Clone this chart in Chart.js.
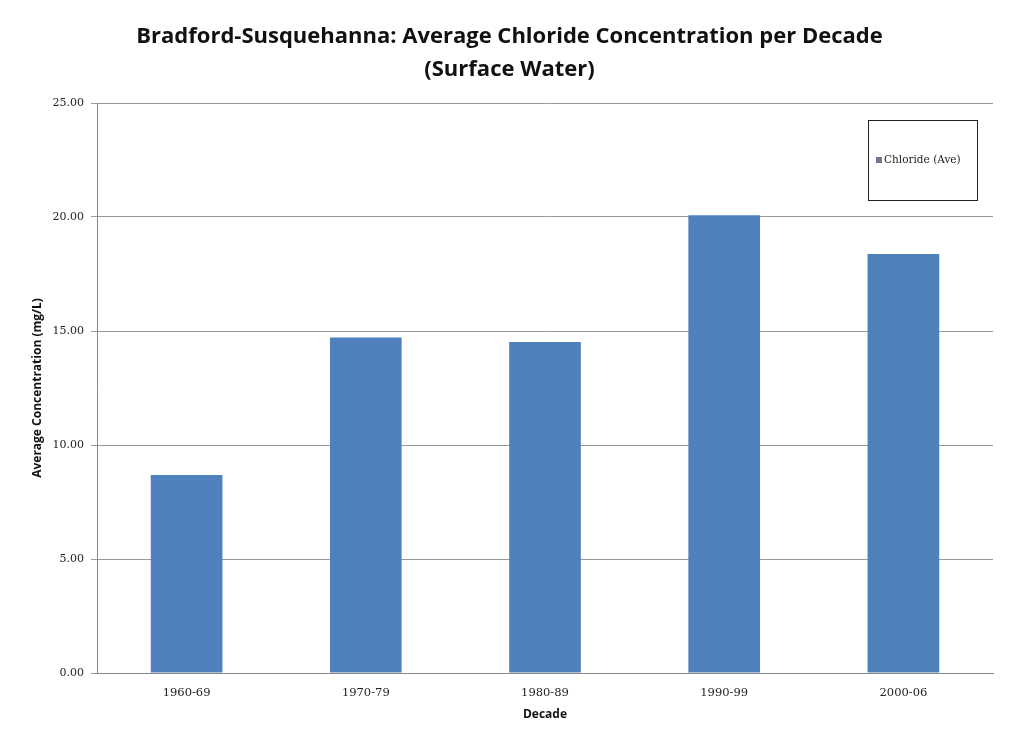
<!DOCTYPE html>
<html>
<head>
<meta charset="utf-8">
<script src="https://cdn.jsdelivr.net/npm/chart.js@4.4.1/dist/chart.umd.min.js"></script>
<style>
  html, body { margin: 0; padding: 0; background: #fff; }
  #wrap { width: 1011px; height: 738px; }
</style>
</head>
<body>
<div id="wrap"><canvas id="chart" width="1011" height="738"></canvas></div>
<script>
// data
const decades = ['1960-69', '1970-79', '1980-89', '1990-99', '2000-06'];
const chlorideAve = [8.68, 14.72, 14.52, 20.08, 18.38];
const seriesName = 'Chloride (Ave)';
const titleLines = ['Bradford-Susquehanna: Average Chloride Concentration per Decade', '(Surface Water)'];

const barColor = '#4f81bd';
const serif = "'DejaVu Serif', 'Liberation Serif', serif";
const sans = "'Open Sans', 'Noto Sans', sans-serif";

// legend drawn as a boxed key inside the plot area
const boxedLegend = {
    id: 'boxedLegend',
    afterDraw(chart) {
        const ctx = chart.ctx;
        const ds = chart.data.datasets[0];
        const x = 868, y = 120, w = 109, h = 80;
        ctx.save();
        ctx.fillStyle = '#fff';
        ctx.fillRect(x, y, w, h);
        ctx.strokeStyle = '#222';
        ctx.lineWidth = 1;
        ctx.strokeRect(x + 0.5, y + 0.5, w, h);
        ctx.fillStyle = '#6b7a8f';
        ctx.fillRect(x + 8, y + 37, 6, 6);
        ctx.fillStyle = '#222';
        ctx.font = '10.5px ' + serif;
        ctx.textBaseline = 'middle';
        ctx.fillText(ds.label, x + 16, y + 40);
        ctx.restore();
    }
};

new Chart(document.getElementById('chart'), {
    type: 'bar',
    data: {
        labels: decades,
        datasets: [{
            label: seriesName,
            data: chlorideAve,
            backgroundColor: barColor,
            borderWidth: 0,
            barPercentage: 0.4,
            categoryPercentage: 1.0
        }]
    },
    options: {
        responsive: false,
        animation: false,
        layout: { padding: { left: 26, right: 18, top: 20, bottom: 16 } },
        plugins: {
            legend: { display: false },
            tooltip: { enabled: false },
            title: {
                display: true,
                text: titleLines,
                color: '#111',
                font: { family: sans, size: 22, weight: 'bold', lineHeight: 1.5 },
                padding: { top: 0, bottom: 17 }
            }
        },
        scales: {
            x: {
                afterFit(scale) { scale.height = 49; },
                grid: { display: false, drawTicks: false },
                border: { color: '#888', width: 1 },
                ticks: { color: '#222', font: { family: serif, size: 11.5 }, padding: 13 },
                title: {
                    display: true, text: 'Decade', color: '#111',
                    font: { family: sans, size: 12, weight: 'bold' }, padding: { top: 0, bottom: 0 }
                }
            },
            y: {
                min: 0, max: 25,
                afterFit(scale) { scale.width = 71; },
                grid: { color: '#999', lineWidth: 1, tickLength: 6 },
                border: { color: '#888', width: 1 },
                ticks: {
                    stepSize: 5, color: '#222', padding: 7,
                    font: { family: serif, size: 11 },
                    callback: v => v.toFixed(2)
                },
                title: {
                    display: true, text: 'Average Concentration (mg/L)', color: '#111',
                    font: { family: sans, size: 12, weight: 'bold' }, padding: { bottom: 2 }
                }
            }
        }
    },
    plugins: [boxedLegend]
});
</script>
</body>
</html>
